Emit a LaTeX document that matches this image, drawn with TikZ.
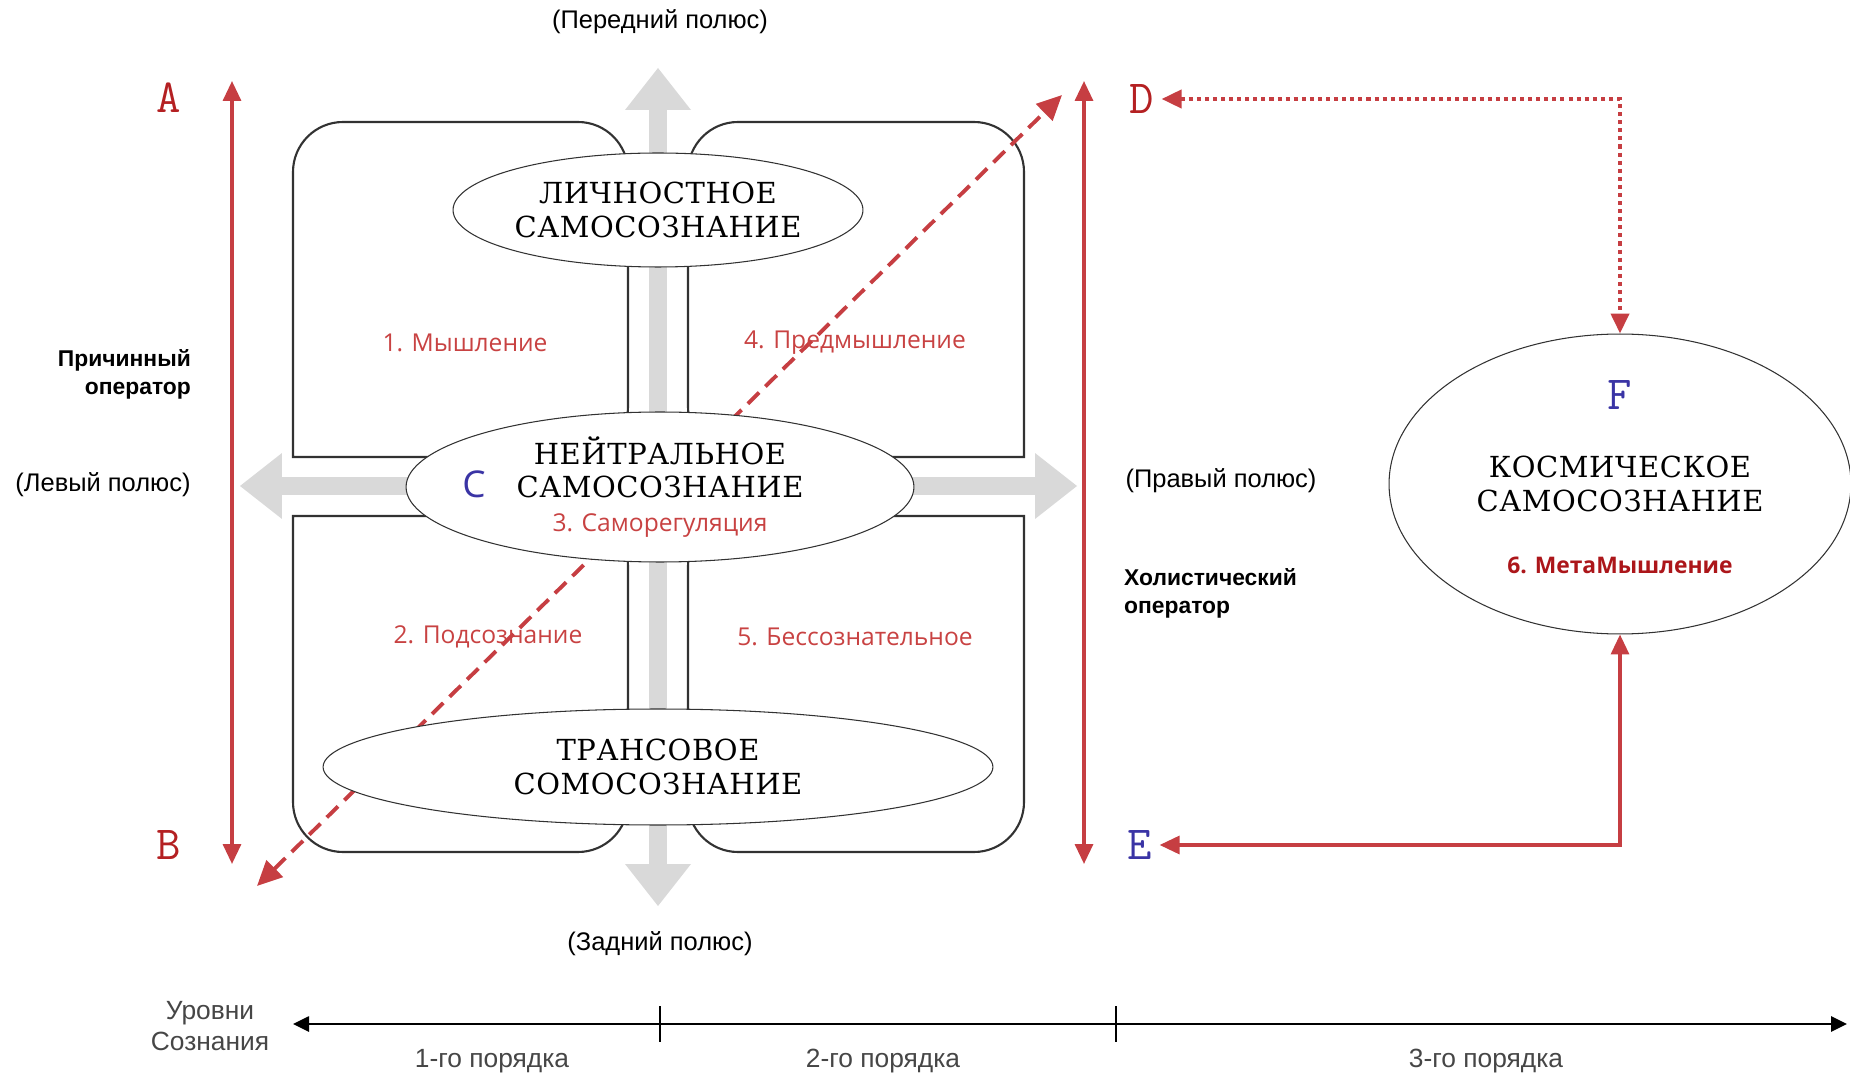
\documentclass[tikz,border=0pt]{standalone}
\usepackage{fontspec}
\usetikzlibrary{shapes.geometric, arrows.meta, positioning}
\setmainfont{Liberation Sans}
\newfontfamily\capsfont[LetterSpace=2]{DejaVu Serif}
\newfontfamily\labelfont{Open Sans}
\definecolor{arrowred}{RGB}{198,62,66}
\definecolor{letterred}{RGB}{180,32,34}
\definecolor{letterblue}{RGB}{58,52,165}
\definecolor{labelred}{RGB}{200,66,66}
\definecolor{metared}{RGB}{172,22,26}
\definecolor{polegray}{RGB}{217,217,217}
\definecolor{inkgray}{RGB}{50,50,50}
\definecolor{levelgray}{RGB}{70,70,70}

\begin{document}
\begin{tikzpicture}[x=0.02cm, y=-0.02cm,
    quad/.style={draw=inkgray, line width=1.2pt, rounded corners=1cm, line cap=rect},
    pole/.style={draw=polegray, line width=0.36cm, -{Triangle[width=1.32cm, length=0.84cm, line width=0pt]}},
    self/.style={ellipse, draw=inkgray, fill=white, line width=0.6pt, inner sep=0pt, align=center, font=\capsfont\fontsize{16.5}{19}\selectfont},
    letter/.style={font=\ttfamily\fontsize{27}{27}\selectfont, inner sep=4pt},
    zone/.style={font=\labelfont\fontsize{14}{17}\selectfont, text=labelred},
    poletext/.style={font=\fontsize{14.5}{17}\selectfont},
    oper/.style={font=\bfseries\fontsize{13}{16}\selectfont},
    leveltext/.style={font=\fontsize{15}{17.6}\selectfont, text=levelgray, align=center},
    redline/.style={draw=arrowred, line width=1.9pt, {Triangle[width=0.36cm, length=0.4cm]}-{Triangle[width=0.36cm, length=0.4cm]}},
    dashline/.style={redline, line width=2.2pt, dash pattern=on 9pt off 5pt, {Triangle[width=0.46cm, length=0.5cm]}-{Triangle[width=0.46cm, length=0.5cm]}},
    dotline/.style={redline, line width=2.3pt, dash pattern=on 2.3pt off 2.3pt},
    levelaxis/.style={draw=black, line width=1.5pt, {Triangle[width=0.3cm, length=0.32cm]}-{Triangle[width=0.3cm, length=0.32cm]}}]

    \useasboundingbox (0,0) rectangle (1850,1077);

    % четыре квадранта
    \draw[quad] (293,457) -- (293,122) -- (628,122) -- (628,457) -- (293,457);
    \draw[quad] (1024,457) -- (1024,122) -- (688,122) -- (688,457) -- (1024,457);
    \draw[quad] (293,516) -- (293,852) -- (628,852) -- (628,516) -- (293,516);
    \draw[quad] (1024,516) -- (1024,852) -- (688,852) -- (688,516) -- (1024,516);

    % полюса
    \coordinate (hub) at (658,486);
    \coordinate (tipup) at (658,68);
    \coordinate (tipdown) at (658,906);
    \coordinate (tipleft) at (240,486);
    \coordinate (tipright) at (1077,486);
    \draw[pole] (hub) -- (tipup);
    \draw[pole] (hub) -- (tipdown);
    \draw[pole] (hub) -- (tipleft);
    \draw[pole] (hub) -- (tipright);

    % диагональ
    \coordinate (diagfrom) at (257,886);
    \coordinate (diagto) at (1062,95);
    \draw[dashline] (diagfrom) -- (diagto);

    % самосознание
    \node[self, minimum width=8.2cm, minimum height=2.28cm] (personal) at (658,210) {ЛИЧНОСТНОЕ\\САМОСОЗНАНИЕ};
    \node[self, minimum width=10.16cm, minimum height=3cm] (neutral) at (660,487)
        {НЕЙТРАЛЬНОЕ\\САМОСОЗНАНИЕ\\{\labelfont\fontsize{14}{19}\selectfont\color{labelred}3. Саморегуляция}};
    \node[self, minimum width=13.4cm, minimum height=2.32cm] (trance) at (658,767) {ТРАНСОВОЕ\\СОМОСОЗНАНИЕ};
    \node[self, minimum width=9.24cm, minimum height=6cm] (cosmic) at (1620,484) {КОСМИЧЕСКОЕ\\САМОСОЗНАНИЕ};

    \node[font=\labelfont\fontsize{21}{21}\selectfont, text=letterblue] (cmark) at (474,484) {C};
    \node[letter, text=letterblue] (fmark) at (1620,395) {F};
    \node[zone, font=\labelfont\bfseries\fontsize{13}{16}\selectfont, text=metared] (meta) at (1620,565) {6. МетаМышление};

    \node[zone] (zone1) at (465,343) {1. Мышление};
    \node[zone] (zone4) at (855,343) {4. Предмышление};
    \node[zone] (zone2) at (488,637) {2. Подсознание};
    \node[zone] (zone5) at (855,637) {5. Бессознательное};

    % подписи полюсов
    \node[poletext] (front) at (660,22) {(Передний полюс)};
    \node[poletext] (back) at (660,944) {(Задний полюс)};
    \node[poletext] (leftpole) at (103,485) {(Левый полюс)};
    \node[poletext] (rightpole) at (1221,481) {(Правый полюс)};
    \node[oper, align=right, anchor=east] (causal) at (197,374) {Причинный\\оператор};
    \node[oper, align=left, anchor=west] (holist) at (1118,593) {Холистический\\оператор};

    % буквы
    \node[letter, text=letterred] (amark) at (169,98) {A};
    \node[letter, text=letterred] (bmark) at (169,845) {B};
    \node[letter, text=letterred] (dmark) at (1142,99) {D};
    \node[letter, text=letterblue] (emark) at (1140,845) {E};

    % операторы
    \coordinate (atop) at (232,81);
    \coordinate (abot) at (232,864);
    \coordinate (dtop) at (1084,81);
    \coordinate (dbot) at (1084,864);
    \draw[redline] (atop) -- (abot);
    \draw[redline] (dtop) -- (dbot);
    \draw[dotline] (dmark) -| (cosmic);
    \draw[redline] (emark) -| (cosmic);

    % уровни сознания
    \coordinate (axleft) at (293,1024);
    \coordinate (axright) at (1847,1024);
    \coordinate (tick1) at (660,1024);
    \coordinate (tick2) at (1116,1024);
    \draw[levelaxis] (axleft) -- (axright);
    \draw[line width=1.5pt] (tick1) ++(0,-18) -- ++(0,36);
    \draw[line width=1.5pt] (tick2) ++(0,-18) -- ++(0,36);
    \node[leveltext] (levels) at (210,1026) {Уровни\\Сознания};
    \node[leveltext] (order1) at (492,1061) {1-го порядка};
    \node[leveltext] (order2) at (883,1061) {2-го порядка};
    \node[leveltext] (order3) at (1486,1061) {3-го порядка};
\end{tikzpicture}
\end{document}
